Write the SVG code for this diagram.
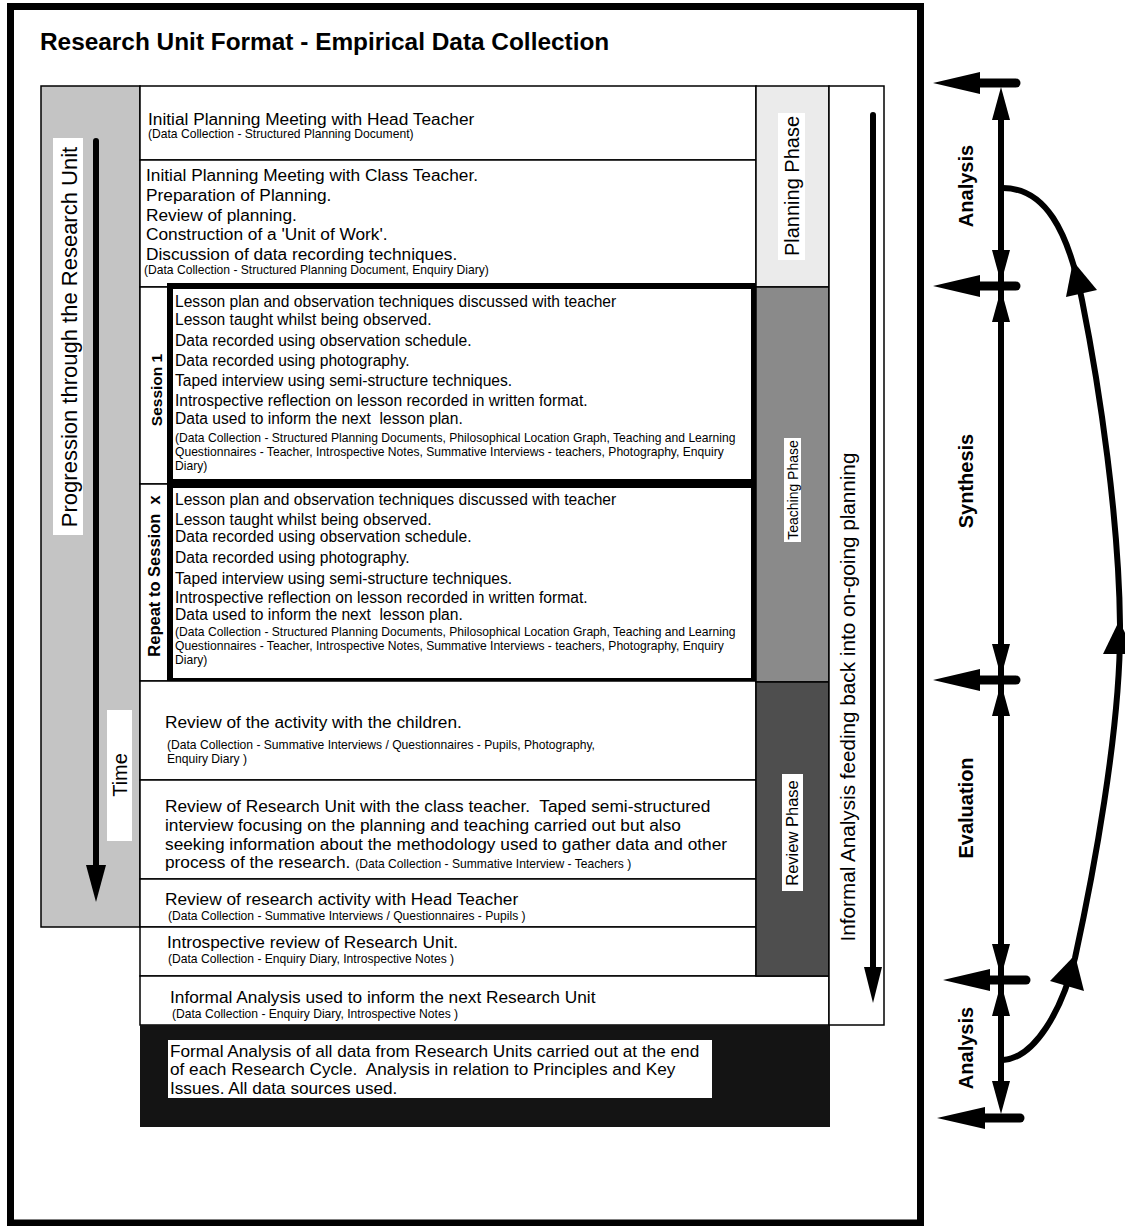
<svg xmlns="http://www.w3.org/2000/svg" width="1125" height="1226" viewBox="0 0 1125 1226">
<defs>
<style>
text{font-family:"Liberation Sans",Arial,Helvetica,sans-serif;fill:#000}
.b{font-weight:bold}
.cell{fill:#fff;stroke:#000;stroke-width:1.5}
.pl{font-size:17.3px}
.rv{font-size:17.3px}
.ls{font-size:15.6px}
.sm{font-size:12.1px}
.thick{fill:none;stroke:#000;stroke-width:6}
.lbl{fill:#fff}
.blk{fill:#000}
.shaft{stroke:#000;stroke-width:6;stroke-linecap:round;fill:none}
.hshaft{stroke:#000;stroke-width:9;stroke-linecap:round}
.curve{stroke:#000;stroke-width:6;fill:none}
.rl{font-size:20px;font-weight:bold}
</style>
</defs>
<rect x="0" y="0" width="1125" height="1226" fill="#fff"/>
<rect x="10.5" y="6.5" width="910" height="1216.5" fill="none" stroke="#000" stroke-width="7"/>
<text x="40" y="50" class="b" font-size="24.4">Research Unit Format - Empirical Data Collection</text>

<g id="progression-column">
<rect x="41" y="86" width="99" height="841" fill="#c4c4c4" stroke="#000" stroke-width="1.5"/>
<rect x="53" y="138" width="30" height="397" class="lbl"/>
<text transform="translate(69,337) rotate(-90)" text-anchor="middle" dy="0.36em" font-size="22">Progression through the Research Unit</text>
<rect x="107" y="710" width="25" height="131" class="lbl"/>
<text transform="translate(120,775) rotate(-90)" text-anchor="middle" dy="0.36em" font-size="20">Time</text>
</g>

<g id="row-head-teacher">
<rect x="140" y="86" width="616" height="74" class="cell"/>
<text x="148" y="125" class="pl">Initial Planning Meeting with Head Teacher</text>
<text x="148" y="138" class="sm">(Data Collection - Structured Planning Document)</text>
</g>

<g id="row-class-teacher">
<rect x="140" y="160" width="616" height="127" class="cell"/>
<text x="146" y="181" class="pl">Initial Planning Meeting with Class Teacher.</text>
<text x="146" y="201" class="pl">Preparation of Planning.</text>
<text x="146" y="221" class="pl">Review of planning.</text>
<text x="146" y="240" class="pl">Construction of a 'Unit of Work'.</text>
<text x="146" y="260" class="pl">Discussion of data recording techniques.</text>
<text x="144" y="274" class="sm">(Data Collection - Structured Planning Document, Enquiry Diary)</text>
</g>

<g id="session-1">
<rect x="140" y="287" width="30" height="197" class="cell"/>
<text transform="translate(156,390) rotate(-90)" text-anchor="middle" dy="0.36em" class="b" font-size="15.5">Session 1</text>
<rect x="170" y="286" width="584" height="196" fill="#fff"/>
<rect x="170" y="286" width="584" height="196" class="thick"/>
<text x="175" y="307" class="ls">Lesson plan and observation techniques discussed with teacher</text>
<text x="175" y="325" class="ls">Lesson taught whilst being observed.</text>
<text x="175" y="346" class="ls">Data recorded using observation schedule.</text>
<text x="175" y="366" class="ls">Data recorded using photography.</text>
<text x="175" y="386" class="ls">Taped interview using semi-structure techniques.</text>
<text x="175" y="406" class="ls">Introspective reflection on lesson recorded in written format.</text>
<text x="175" y="424" class="ls" xml:space="preserve">Data used to inform the next  lesson plan.</text>
<text x="175" y="442" class="sm">(Data Collection - Structured Planning Documents, Philosophical Location Graph, Teaching and Learning</text>
<text x="175" y="456" class="sm">Questionnaires - Teacher, Introspective Notes, Summative Interviews - teachers, Photography, Enquiry</text>
<text x="175" y="470" class="sm">Diary)</text>
</g>

<g id="session-x">
<rect x="140" y="484" width="30" height="197" class="cell"/>
<text transform="translate(154,576) rotate(-90)" text-anchor="middle" dy="0.36em" class="b" font-size="16.5" xml:space="preserve">Repeat to Session  x</text>
<rect x="170" y="485" width="584" height="196" fill="#fff"/>
<rect x="170" y="485" width="584" height="196" class="thick"/>
<text x="175" y="505" class="ls">Lesson plan and observation techniques discussed with teacher</text>
<text x="175" y="525" class="ls">Lesson taught whilst being observed.</text>
<text x="175" y="542" class="ls">Data recorded using observation schedule.</text>
<text x="175" y="563" class="ls">Data recorded using photography.</text>
<text x="175" y="584" class="ls">Taped interview using semi-structure techniques.</text>
<text x="175" y="603" class="ls">Introspective reflection on lesson recorded in written format.</text>
<text x="175" y="620" class="ls" xml:space="preserve">Data used to inform the next  lesson plan.</text>
<text x="175" y="636" class="sm">(Data Collection - Structured Planning Documents, Philosophical Location Graph, Teaching and Learning</text>
<text x="175" y="650" class="sm">Questionnaires - Teacher, Introspective Notes, Summative Interviews - teachers, Photography, Enquiry</text>
<text x="175" y="664" class="sm">Diary)</text>
</g>

<g id="row-review-children">
<rect x="140" y="681" width="616" height="99" class="cell"/>
<text x="165" y="728" class="rv">Review of the activity with the children.</text>
<text x="167" y="749" class="sm">(Data Collection - Summative Interviews / Questionnaires - Pupils, Photography,</text>
<text x="167" y="763" class="sm">Enquiry Diary )</text>
</g>

<g id="row-review-class-teacher">
<rect x="140" y="780" width="616" height="99" class="cell"/>
<text x="165" y="812" class="rv" xml:space="preserve">Review of Research Unit with the class teacher.  Taped semi-structured</text>
<text x="165" y="831" class="rv">interview focusing on the planning and teaching carried out but also</text>
<text x="165" y="850" class="rv">seeking information about the methodology used to gather data and other</text>
<text x="165" y="868" class="rv" xml:space="preserve">process of the research. <tspan class="sm">(Data Collection - Summative Interview - Teachers )</tspan></text>
</g>

<g id="row-review-head-teacher">
<rect x="140" y="879" width="616" height="48" class="cell"/>
<text x="165" y="905" class="rv">Review of research activity with Head Teacher</text>
<text x="168" y="920" class="sm">(Data Collection - Summative Interviews / Questionnaires - Pupils )</text>
</g>

<g id="row-introspective">
<rect x="140" y="927" width="616" height="49" class="cell"/>
<text x="167" y="948" class="rv">Introspective review of Research Unit.</text>
<text x="168" y="963" class="sm">(Data Collection - Enquiry Diary, Introspective Notes )</text>
</g>

<g id="row-informal">
<rect x="140" y="976" width="689" height="49" class="cell"/>
<text x="170" y="1003" class="rv">Informal Analysis used to inform the next Research Unit</text>
<text x="172" y="1018" class="sm">(Data Collection - Enquiry Diary, Introspective Notes )</text>
</g>

<g id="formal-analysis">
<rect x="140" y="1025" width="690" height="102" fill="#141414"/>
<rect x="168" y="1040" width="544" height="58" class="lbl"/>
<text x="170" y="1057" font-size="17.2">Formal Analysis of all data from Research Units carried out at the end</text>
<text x="170" y="1075" font-size="17.2" xml:space="preserve">of each Research Cycle.  Analysis in relation to Principles and Key</text>
<text x="170" y="1094" font-size="17.2">Issues. All data sources used.</text>
</g>

<g id="planning-phase">
<rect x="756" y="86" width="73" height="201" fill="#ebebeb" stroke="#000" stroke-width="1.5"/>
<rect x="778" y="113" width="27" height="147" class="lbl"/>
<text transform="translate(791.5,186) rotate(-90)" text-anchor="middle" dy="0.36em" font-size="20">Planning Phase</text>
</g>

<g id="teaching-phase">
<rect x="756" y="287" width="73" height="395" fill="#8a8a8a" stroke="#000" stroke-width="1.5"/>
<rect x="784" y="438" width="17" height="104" class="lbl"/>
<text transform="translate(792.5,490) rotate(-90)" text-anchor="middle" dy="0.36em" font-size="14">Teaching Phase</text>
</g>

<g id="review-phase">
<rect x="756" y="682" width="73" height="294" fill="#4e4e4e" stroke="#000" stroke-width="1.5"/>
<rect x="782" y="774" width="21" height="117" class="lbl"/>
<text transform="translate(792.5,833) rotate(-90)" text-anchor="middle" dy="0.36em" font-size="16.5">Review Phase</text>
</g>

<g id="informal-feedback">
<rect x="829" y="86" width="55" height="939" class="cell"/>
<text transform="translate(848,697) rotate(-90)" text-anchor="middle" dy="0.36em" font-size="20.7">Informal Analysis feeding back into on-going planning</text>
</g>

<g id="connectors">
<line x1="96" y1="141" x2="96" y2="868" class="shaft" stroke-width="6.5"/>
<polygon points="86,865 106,865 96,902" class="blk"/>
<line x1="873" y1="115" x2="873" y2="970" class="shaft" stroke-width="7"/>
<polygon points="864,967 882,967 873,1003" class="blk"/>

<line x1="1001" y1="100" x2="1001" y2="1100" stroke="#000" stroke-width="6"/>
<line x1="978" y1="83" x2="1016" y2="83" class="hshaft"/>
<polygon points="933,83 980,72 980,94" class="blk"/>
<line x1="978" y1="286" x2="1016" y2="286" class="hshaft"/>
<polygon points="933,286 980,275 980,297" class="blk"/>
<line x1="978" y1="680" x2="1016" y2="680" class="hshaft"/>
<polygon points="933,680 980,669 980,691" class="blk"/>
<line x1="988" y1="980" x2="1026" y2="980" class="hshaft"/>
<polygon points="943,980 990,969 990,991" class="blk"/>
<line x1="983" y1="1118" x2="1020" y2="1118" class="hshaft"/>
<polygon points="937,1118 985,1107 985,1129" class="blk"/>

<polygon points="1001,87 992,120 1010,120" class="blk"/>
<polygon points="1001,283 992,250 1010,250" class="blk"/>
<polygon points="1001,289 992,322 1010,322" class="blk"/>
<polygon points="1001,677 992,644 1010,644" class="blk"/>
<polygon points="1001,683 992,716 1010,716" class="blk"/>
<polygon points="1001,977 992,944 1010,944" class="blk"/>
<polygon points="1001,983 992,1016 1010,1016" class="blk"/>
<polygon points="1001,1114 992,1081 1010,1081" class="blk"/>

<path d="M1003,1060 C1035,1058 1062,1010 1075,958 C1092,880 1121,730 1120,625 C1119,520 1100,390 1082,300 C1068,230 1045,188 1003,188" class="curve"/>
<polygon points="1075,955 1050,981 1084,991" class="blk"/>
<polygon points="1119,621 1103,654 1136,654" class="blk"/>
<polygon points="1073,261 1066,297 1097,290" class="blk"/>
</g>

<g id="stage-labels">
<text transform="translate(966,186) rotate(-90)" text-anchor="middle" dy="0.36em" class="rl">Analysis</text>
<text transform="translate(966,481) rotate(-90)" text-anchor="middle" dy="0.36em" class="rl">Synthesis</text>
<text transform="translate(966,808) rotate(-90)" text-anchor="middle" dy="0.36em" class="rl">Evaluation</text>
<text transform="translate(966,1048) rotate(-90)" text-anchor="middle" dy="0.36em" class="rl">Analysis</text>
</g>
</svg>
